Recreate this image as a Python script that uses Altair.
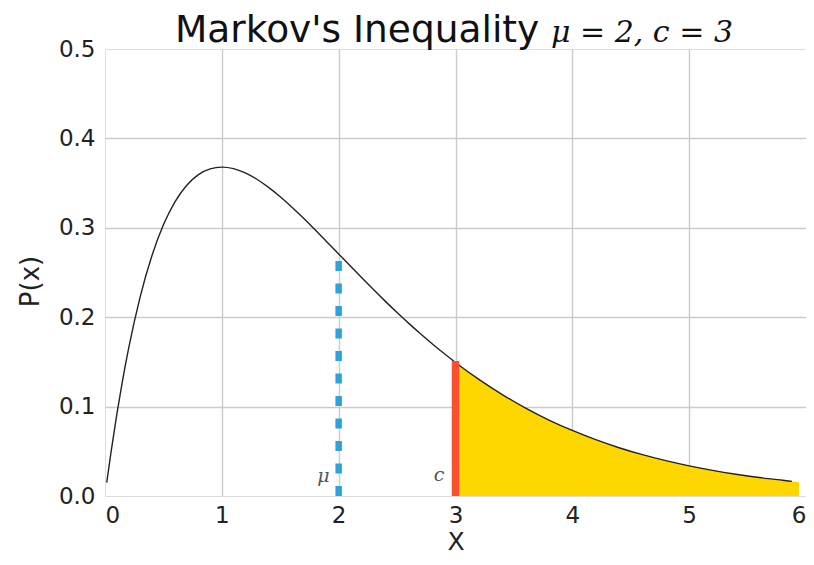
import altair as alt
import pandas as pd

# curve values
curve_x = [0.015, 0.05, 0.1, 0.15, 0.2, 0.3, 0.4, 0.5, 0.6, 0.7, 0.8, 0.9, 1.0, 1.1, 1.2, 1.3, 1.4,
           1.5, 1.6, 1.7, 1.8, 1.9, 2.0, 2.1, 2.2, 2.3, 2.4, 2.5, 2.6, 2.7, 2.8, 2.9, 3.0,
           3.2, 3.4, 3.6, 3.8, 4.0, 4.2, 4.4, 4.6, 4.8, 5.0, 5.2, 5.4, 5.6, 5.8, 5.88]
curve_y = [0.015, 0.0476, 0.0905, 0.1291, 0.1637, 0.2222, 0.2681, 0.3033, 0.3293, 0.3476, 0.3595,
           0.3659, 0.3679, 0.3662, 0.3614, 0.3543, 0.3452, 0.3347, 0.3230, 0.3106, 0.2975,
           0.2842, 0.2707, 0.2572, 0.2438, 0.2306, 0.2177, 0.2052, 0.1931, 0.1815, 0.1703,
           0.1596, 0.1494, 0.1304, 0.1135, 0.0984, 0.0850, 0.0733, 0.0630, 0.0540, 0.0462,
           0.0395, 0.0337, 0.0287, 0.0244, 0.0207, 0.0176, 0.0164]

# shaded tail region (x >= c)
fill_x = [3.0, 3.2, 3.4, 3.6, 3.8, 4.0, 4.2, 4.4, 4.6, 4.8, 5.0, 5.2, 5.4, 5.6, 5.8, 5.94]
fill_y = [0.1494, 0.1304, 0.1135, 0.0984, 0.0850, 0.0733, 0.0630, 0.0540, 0.0462, 0.0395,
          0.0337, 0.0287, 0.0244, 0.0207, 0.0176, 0.0156]

mu = 2
mu_height = 0.264
c = 3
c_height = 0.151

x_ticks = [0, 1, 2, 3, 4, 5, 6]
y_ticks = [0.0, 0.1, 0.2, 0.3, 0.4, 0.5]

title_main = "Markov's Inequality"
title_math = "μ = 2, c = 3"

W, H = 701, 447

curve_df = pd.DataFrame({"x": curve_x, "p": curve_y})
fill_df = pd.DataFrame({"x": fill_x, "p": fill_y})
mu_df = pd.DataFrame({"x": [mu], "y0": [0.0], "y1": [mu_height], "lab": ["μ"], "lx": [1.87], "ly": [0.022]})
c_df = pd.DataFrame({"x": [c], "y0": [0.0], "y1": [c_height], "lab": ["c"], "lx": [2.86], "ly": [0.024]})
t1_df = pd.DataFrame({"t": [title_main]})
t2_df = pd.DataFrame({"t": [title_math]})

grid_op = alt.condition("datum.value == 0 || datum.value == 0.5 || datum.value == 6", alt.value(0), alt.value(1))

xscale = alt.Scale(domain=[0, 6], nice=False, zero=False)
yscale = alt.Scale(domain=[0, 0.5], nice=False)

xaxis = alt.Axis(values=x_ticks, format="d", title="X", domain=False, ticks=False,
                 labelFontSize=23, labelPadding=8, labelColor="#222222", labelFont="DejaVu Sans",
                 titleFontSize=25, titleFont="DejaVu Sans", titleFontWeight="normal", titleColor="#222222",
                 titleY=33, titleBaseline="top", titleAnchor="middle",
                 gridColor="#cbcbcb", gridWidth=1.4, gridOpacity=grid_op)
yaxis = alt.Axis(values=y_ticks, format=".1f", title="P(x)", domain=False, ticks=False,
                 labelFontSize=23, labelPadding=10, labelColor="#222222", labelFont="DejaVu Sans",
                 titleFontSize=26, titleFont="DejaVu Sans", titleFontWeight="normal", titleColor="#222222",
                 titleX=-75, titleY=232, titleAngle=270, titleBaseline="middle", titleAlign="center",
                 gridColor="#cbcbcb", gridWidth=1.4, gridOpacity=grid_op)

base_grid = alt.Chart(curve_df).mark_line(opacity=0).encode(
    x=alt.X("x:Q", scale=xscale, axis=xaxis),
    y=alt.Y("p:Q", scale=yscale, axis=yaxis),
)

area = alt.Chart(fill_df).mark_area(color="#FFD700", opacity=1, interpolate="monotone").encode(
    x=alt.X("x:Q", scale=xscale), y=alt.Y("p:Q", scale=yscale), y2=alt.datum(0)
)

line = alt.Chart(curve_df).mark_line(color="#222222", strokeWidth=1.4, interpolate="monotone").encode(
    x=alt.X("x:Q", scale=xscale), y=alt.Y("p:Q", scale=yscale)
)

mu_rule = alt.Chart(mu_df).mark_rule(color="#30A2DA", strokeWidth=6.5, strokeDash=[10, 12.5]).encode(
    x=alt.X("x:Q", scale=xscale), y=alt.Y("y0:Q", scale=yscale), y2="y1:Q"
)
c_rule = alt.Chart(c_df).mark_rule(color="#FC4F30", strokeWidth=7.5).encode(
    x=alt.X("x:Q", scale=xscale), y=alt.Y("y0:Q", scale=yscale), y2="y1:Q"
)

lab_style = dict(font="DejaVu Serif", fontStyle="italic", fontSize=19, color="#555555",
                 align="center", baseline="middle")
mu_text = alt.Chart(mu_df).mark_text(**lab_style).encode(
    x=alt.X("lx:Q", scale=xscale), y=alt.Y("ly:Q", scale=yscale), text="lab:N"
)
c_text = alt.Chart(c_df).mark_text(**lab_style).encode(
    x=alt.X("lx:Q", scale=xscale), y=alt.Y("ly:Q", scale=yscale), text="lab:N"
)

title1 = alt.Chart(t1_df).mark_text(font="DejaVu Sans", fontSize=37.5, color="#111111",
                                    align="left", baseline="alphabetic").encode(
    x=alt.value(70), y=alt.value(-7), text="t:N"
)
title2 = alt.Chart(t2_df).mark_text(font="DejaVu Serif", fontStyle="italic", fontSize=30, color="#111111",
                                    align="left", baseline="alphabetic").encode(
    x=alt.value(446), y=alt.value(-7), text="t:N"
)

chart = alt.layer(base_grid, area, line, mu_rule, c_rule, mu_text, c_text, title1, title2).properties(
    width=W, height=H,
    autosize=alt.AutoSizeParams(type="none"),
    padding={"left": 97, "top": 41, "right": 0, "bottom": 61},
).configure_view(stroke=None).configure(background="white")

chart.save("out.html", embed_options={"renderer": "svg", "actions": False})
